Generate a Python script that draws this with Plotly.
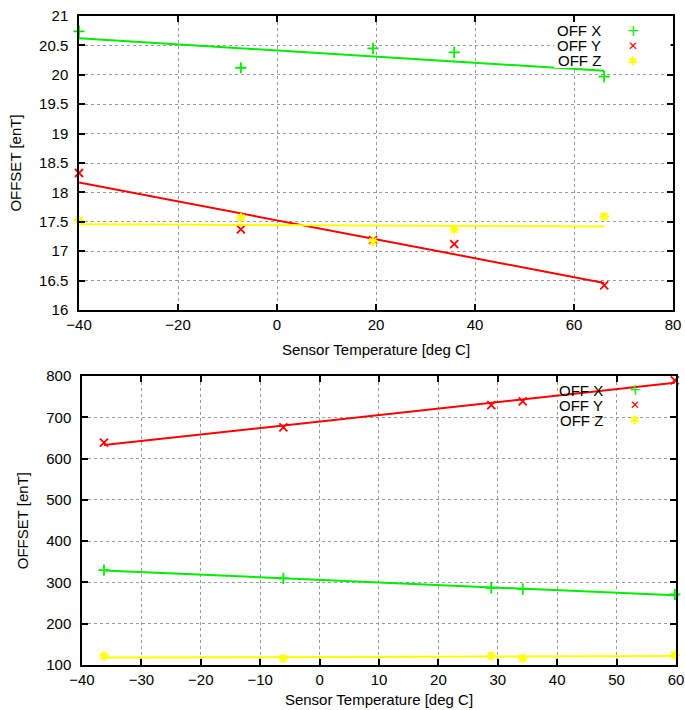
import plotly.graph_objects as go
from plotly.subplots import make_subplots

# ---------------- data ----------------
top_temp = [-40.0, -7.3, 19.4, 35.8, 66.1]
top_off_x = [20.74, 20.12, 20.45, 20.38, 19.97]
top_off_y = [18.33, 17.37, 17.19, 17.12, 16.42]
top_off_z = [17.53, 17.57, 17.17, 17.37, 17.59]
top_fit_temp = [-40.0, 66.1]
top_fit_x = [20.62, 20.07]
top_fit_y = [18.17, 16.46]
top_fit_z = [17.46, 17.42]

bot_temp = [-36.3, -6.1, 28.9, 34.2, 59.8]
bot_off_x = [330, 310, 287, 284, 271]
bot_off_y = [639, 676, 730, 739, 790]
bot_off_z = [122, 116, 122, 116, 124]
bot_fit_temp = [-36.3, 59.8]
bot_fit_x = [329, 269]
bot_fit_y = [633, 784]
bot_fit_z = [118, 122]

series_names = ["OFF X", "OFF Y", "OFF Z"]
x_title = "Sensor Temperature [deg C]"
y_title = "OFFSET [enT]"

# ---------------- styling ----------------
GREEN, RED, YELLOW = "#00ee00", "#ff0000", "#ffff00"
colors = [GREEN, RED, YELLOW]
symbols = ["cross-thin", "x-thin", "asterisk"]
FONT = "Liberation Sans, Arial, sans-serif"

fig = make_subplots(rows=2, cols=1)

def add_panel(row, temp, vals, fit_temp, fits):
    for name, v, f, c, s in zip(series_names, vals, fits, colors, symbols):
        fig.add_trace(go.Scatter(x=fit_temp, y=f, mode="lines",
                                 line=dict(color=c, width=2),
                                 showlegend=False, hoverinfo="skip"),
                      row=row, col=1)
        fig.add_trace(go.Scatter(x=temp, y=v, mode="markers", name=name,
                                 marker=dict(symbol=s, size=8, color=c,
                                             line=dict(color=c, width=1.8)),
                                 showlegend=False, cliponaxis=False),
                      row=row, col=1)

add_panel(1, top_temp, [top_off_x, top_off_y, top_off_z], top_fit_temp,
          [top_fit_x, top_fit_y, top_fit_z])
add_panel(2, bot_temp, [bot_off_x, bot_off_y, bot_off_z], bot_fit_temp,
          [bot_fit_x, bot_fit_y, bot_fit_z])

axis_common = dict(
    showline=True, linecolor="black", linewidth=1.5, mirror="ticks",
    ticks="inside", ticklen=6, tickwidth=1.5, tickcolor="black",
    showgrid=True, gridcolor="#999999", griddash="dot", gridwidth=1,
    zeroline=False, tickfont=dict(family=FONT, size=15, color="black"),
    automargin=False,
)

fig.update_xaxes(axis_common)
fig.update_yaxes(axis_common)

title_font = dict(family=FONT, size=15, color="black")
fig.update_xaxes(row=1, col=1, range=[-40, 80], dtick=20, tick0=-40,
                 domain=[0.0, 0.995],
                 title=dict(text=x_title, standoff=13, font=title_font))
fig.update_xaxes(row=2, col=1, range=[-40, 60], dtick=10, tick0=-40,
                 domain=[0.005, 1.0],
                 title=dict(text=x_title, standoff=8, font=title_font))
fig.update_yaxes(row=1, col=1, range=[16, 21], dtick=0.5, tick0=16,
                 domain=[0.547, 1.0], ticklabelstandoff=6,
                 title=dict(text=y_title, standoff=14, font=title_font))
fig.update_yaxes(row=2, col=1, range=[100, 800], dtick=100, tick0=100,
                 domain=[0.0, 0.445], ticklabelstandoff=6,
                 title=dict(text=y_title, standoff=14, font=title_font))

# opaque key area in the upper panel (covers the grid there; no data inside)
fig.add_shape(type="rect", xref="x domain", yref="y domain", x0=0.80,
              x1=0.996, y0=0.823, y1=0.98, fillcolor="white",
              line=dict(width=0), layer="above")

# key (text right-aligned, symbol on the right, gnuplot style)
key_glyphs = ["+", "\u2715", "\u2731"]
glyph_sizes = [15, 12, 12]
for xr, yr, xt, xs, rows in [("x domain", "y domain", 0.880, 0.933,
                              [0.949, 0.898, 0.847]),
                             ("x2 domain", "y2 domain", 0.879, 0.931,
                              [0.9516, 0.8997, 0.8478])]:
    for name, g, gs, c, yy in zip(series_names, key_glyphs, glyph_sizes,
                                  colors, rows):
        fig.add_annotation(xref=xr, yref=yr, x=xt, y=yy, text=name,
                           showarrow=False, xanchor="right", yanchor="middle",
                           borderpad=0,
                           font=dict(family=FONT, size=15, color="black"))
        fig.add_annotation(xref=xr, yref=yr, x=xs, y=yy, text=g,
                           showarrow=False, xanchor="center", yanchor="middle",
                           borderpad=0,
                           font=dict(family="DejaVu Sans", size=gs, color=c))

fig.update_layout(
    width=685, height=710,
    margin=dict(l=79, r=9, t=16, b=45),
    paper_bgcolor="white", plot_bgcolor="white",
    showlegend=False,
)

fig.write_html("out.html",
               config={"displayModeBar": False},
               post_script="document.body.style.margin='0px';")
